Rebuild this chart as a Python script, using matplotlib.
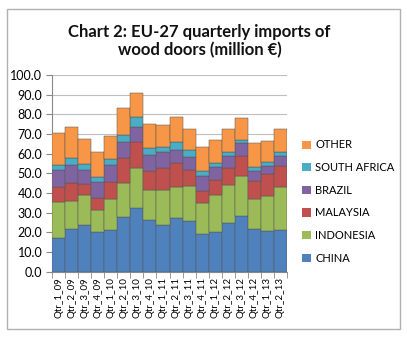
import matplotlib
matplotlib.use("Agg")
import matplotlib.pyplot as plt
from matplotlib.patches import Rectangle, Patch
import numpy as np

quarters = ["Qtr_1_09", "Qtr_2_09", "Qtr_3_09", "Qtr_4_09",
            "Qtr_1_10", "Qtr_2_10", "Qtr_3_10", "Qtr_4_10",
            "Qtr_1_11", "Qtr_2_11", "Qtr_3_11", "Qtr_4_11",
            "Qtr_1_12", "Qtr_2_12", "Qtr_3_12", "Qtr_4_12",
            "Qtr_1_13", "Qtr_2_13"]

china = [17.2, 21.6, 23.5, 20.4, 21.3, 28.0, 32.6, 26.2, 23.5,
         27.1, 25.6, 19.2, 20.1, 24.9, 28.3, 21.8, 20.9, 21.4]
indonesia = [18.2, 14.3, 15.3, 11.1, 15.8, 17.3, 19.9, 15.1, 17.8,
             16.2, 18.0, 15.9, 18.7, 19.2, 20.2, 15.3, 17.5, 21.7]
malaysia = [7.9, 9.1, 5.8, 5.9, 8.7, 12.3, 13.3, 9.9, 11.4,
            12.1, 7.9, 5.9, 7.7, 8.6, 10.4, 9.2, 11.3, 10.5]
brazil = [8.5, 9.2, 7.1, 8.4, 8.6, 8.5, 8.0, 8.0, 7.9,
          6.3, 6.9, 7.5, 6.5, 5.9, 6.4, 5.0, 4.1, 5.4]
south_africa = [2.4, 3.5, 2.8, 2.5, 2.8, 3.2, 4.7, 3.8, 3.0,
                4.4, 3.6, 2.8, 2.2, 2.4, 1.5, 2.1, 2.2, 2.0]
other = [16.1, 15.8, 13.1, 12.3, 11.9, 13.9, 12.6, 12.3, 11.1,
         12.4, 10.7, 12.1, 11.6, 11.7, 11.4, 12.2, 10.4, 11.8]

series_names = ["CHINA", "INDONESIA", "MALAYSIA", "BRAZIL", "SOUTH AFRICA", "OTHER"]
series_values = [china, indonesia, malaysia, brazil, south_africa, other]
series_colors = ["#4F81BD", "#9BBB59", "#C0504D", "#8064A2", "#4BACC6", "#F79646"]

plt.rcParams["font.family"] = ["Lato", "DejaVu Sans"]

fig = plt.figure(figsize=(4.07, 3.38), dpi=100)
fig.patch.set_facecolor("white")

# outer chart-area frame
fig.patches.append(Rectangle((7 / 407, 1 - 329 / 338), 393 / 407, 320 / 338,
                             transform=fig.transFigure, fill=False,
                             edgecolor="#b0b0b0", linewidth=1.0))

fig.text(0.49, 1 - 41 / 338, "Chart 2: EU-27 quarterly imports of\nwood doors (million \u20ac)",
         ha="center", va="center", fontsize=12, fontweight="bold",
         linespacing=1.1, color="#111111")

ax = fig.add_axes([52 / 407, (338 - 271.7) / 338, 235 / 407, 196.7 / 338])

x = np.arange(len(quarters))
bottom = np.zeros(len(quarters))
handles = []
for name, vals, col in zip(series_names, series_values, series_colors):
    vals = np.array(vals)
    ax.bar(x, vals, width=1.0, bottom=bottom, color=col,
           edgecolor="#555555", linewidth=0.35, label=name, zorder=3)
    bottom += vals
    handles.append(Patch(facecolor=col, edgecolor="none", label=name))

ax.set_xlim(-0.5, len(quarters) - 0.5)
ax.set_ylim(0, 100)
ax.set_yticks(np.arange(0, 101, 10))
ax.set_yticklabels([f"{v:.1f}" for v in np.arange(0, 101, 10)], fontsize=9)
ax.yaxis.grid(True, color="#bfbfbf", linewidth=0.8, zorder=0)
ax.set_axisbelow(True)

ax.set_xticks(x)
ax.set_xticklabels(quarters, rotation=90, fontsize=7)
ax.set_xticks(np.arange(-0.5, len(quarters), 1.0), minor=True)
ax.tick_params(axis="x", which="major", length=0, pad=4)
ax.tick_params(axis="x", which="minor", length=4, color="#888888")
ax.tick_params(axis="y", length=4, color="#888888", pad=3)

for side in ["top", "right"]:
    ax.spines[side].set_visible(False)
for side in ["left", "bottom"]:
    ax.spines[side].set_color("#888888")
    ax.spines[side].set_linewidth(0.8)

fig.legend(handles[::-1], series_names[::-1], loc="upper left",
           bbox_to_anchor=(298 / 407, 1 - 135 / 338), frameon=False,
           fontsize=8, handlelength=0.75, handleheight=0.75,
           handletextpad=0.4, labelspacing=1.05, borderaxespad=0)

fig.savefig("out.png", dpi=100, facecolor="white")
